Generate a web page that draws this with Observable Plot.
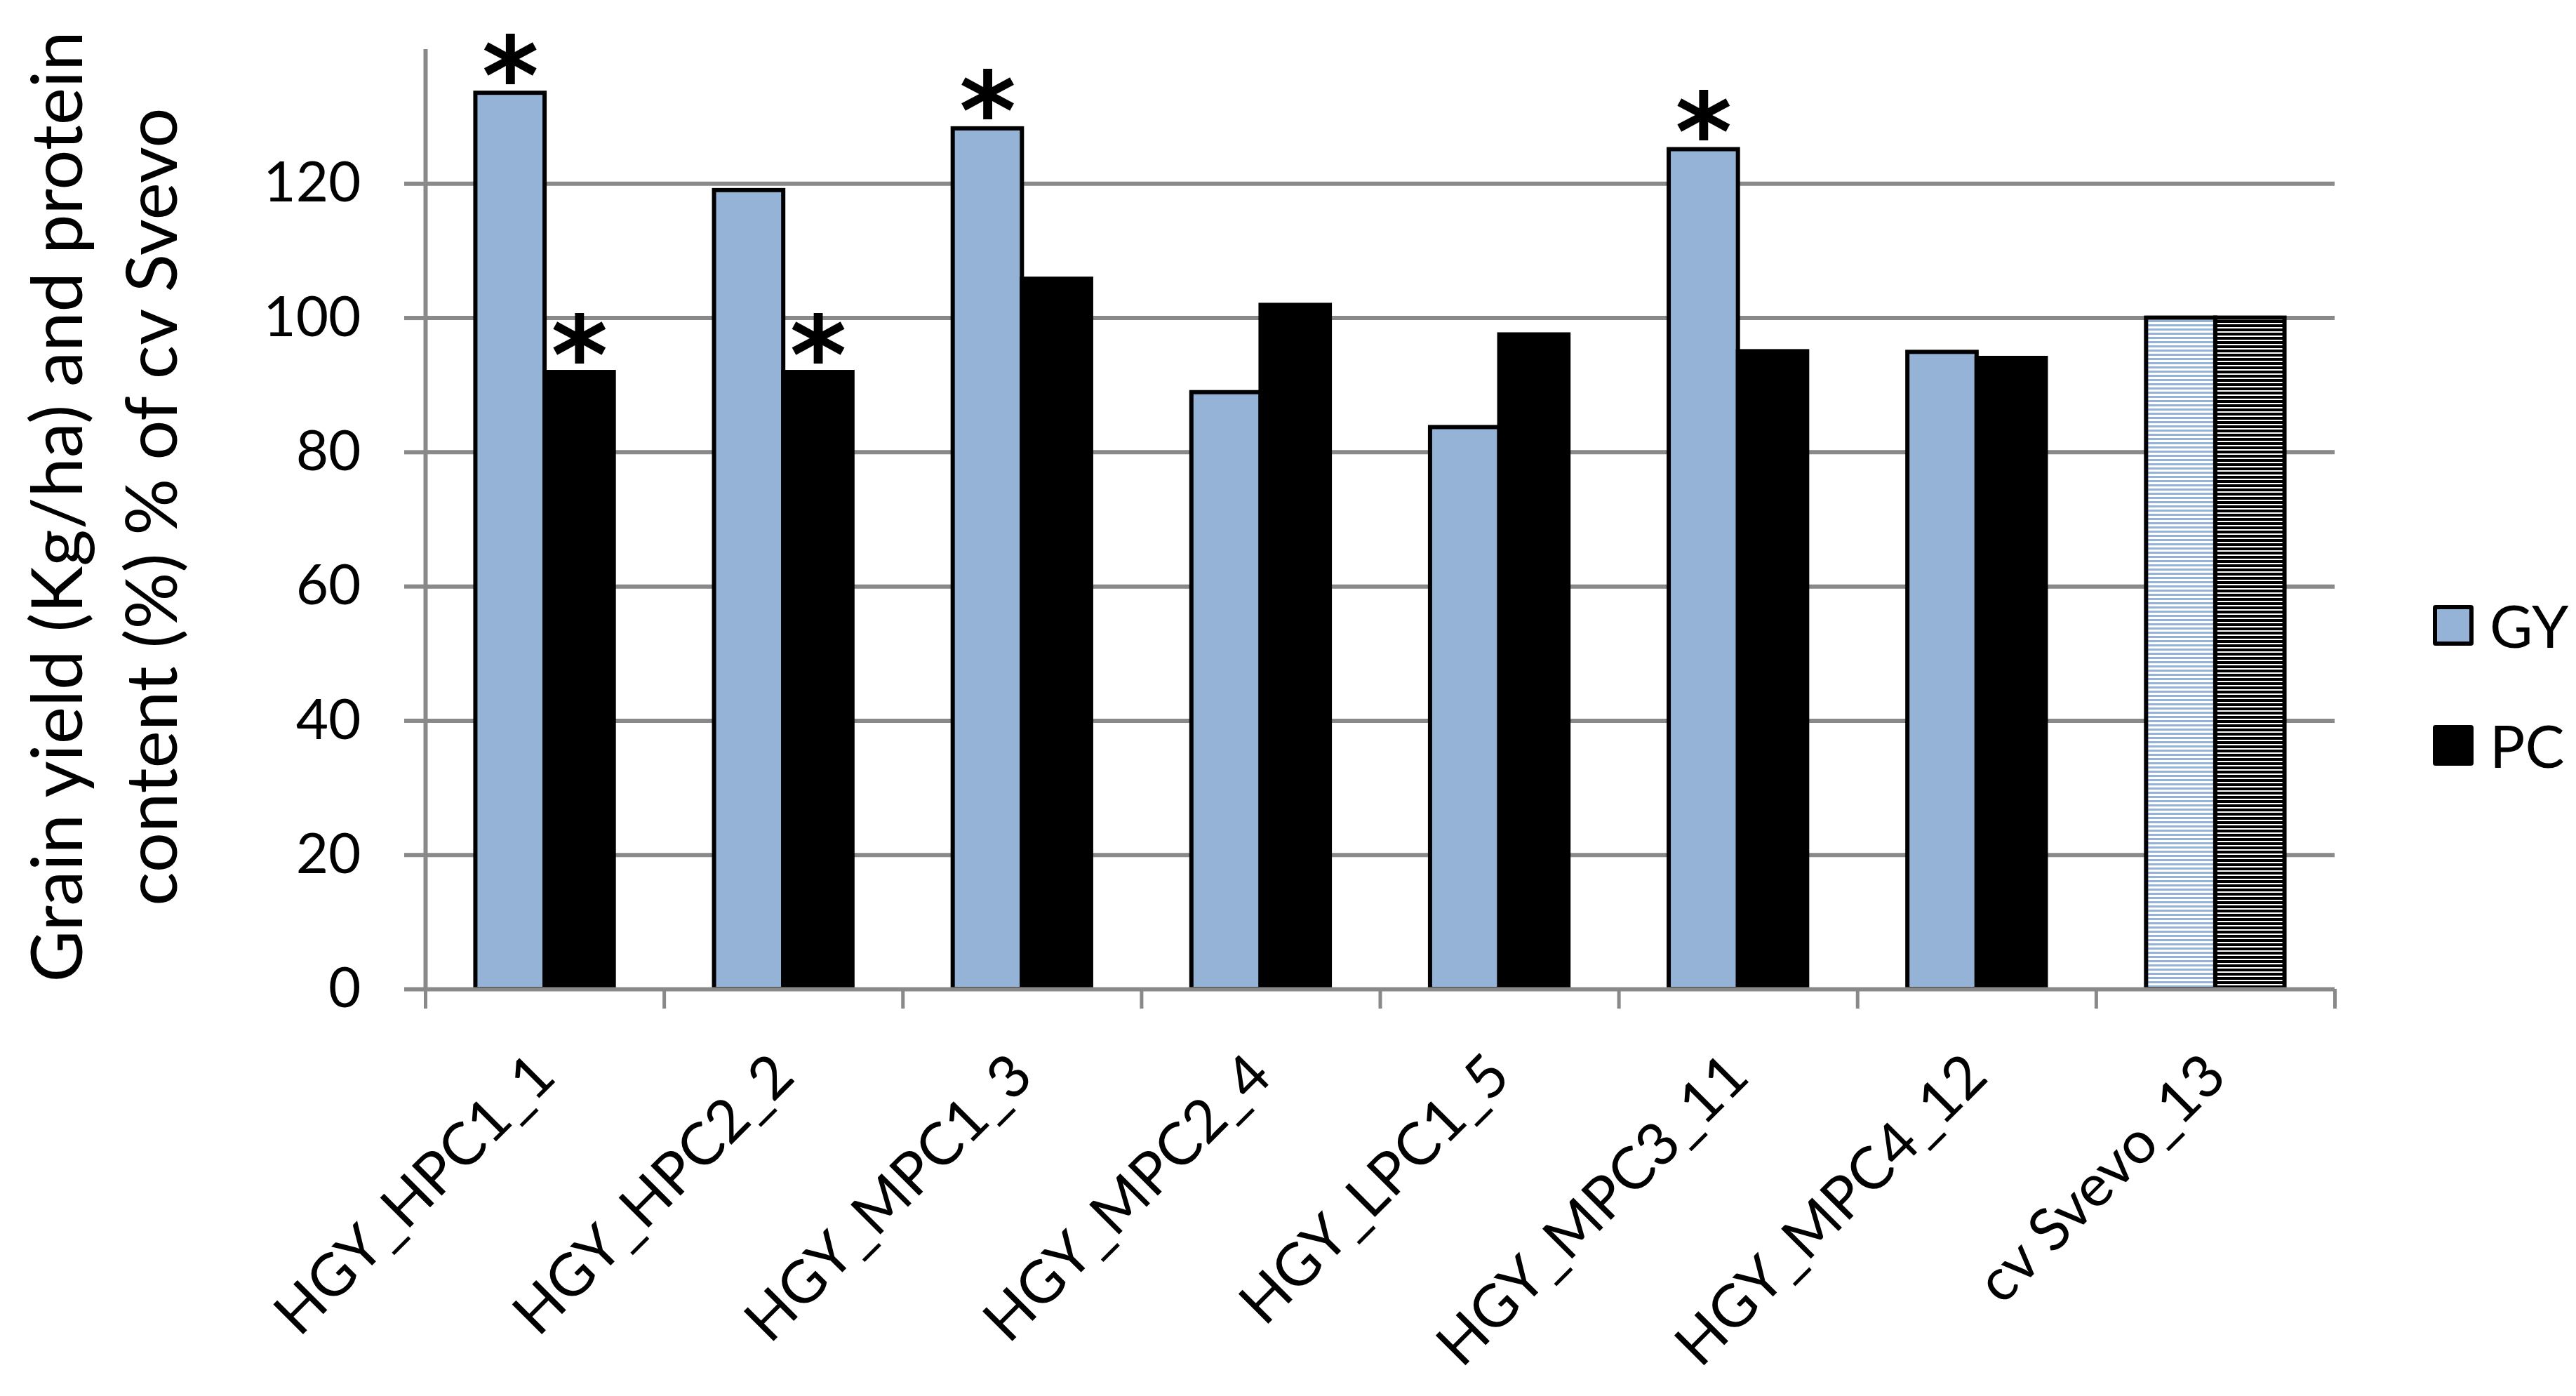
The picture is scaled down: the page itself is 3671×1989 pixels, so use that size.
<!DOCTYPE html>
<html>
<head>
<meta charset="utf-8">
<script src="https://cdn.jsdelivr.net/npm/d3@7"></script>
<script src="https://cdn.jsdelivr.net/npm/@observablehq/plot@0.6"></script>
<style>
  html, body { margin: 0; padding: 0; background: #fff; }
  #wrap { position: relative; width: 3671px; height: 1989px; font-family: Lato, "Open Sans", sans-serif; color: #000; }
  #ytitle { position: absolute; left: 146px; top: 722px; transform: translate(-50%, -50%) rotate(-90deg);
            text-align: center; white-space: nowrap; font-size: 101px; line-height: 135px; }
  .leg { position: absolute; left: 3467px; display: flex; align-items: center; height: 58px; font-size: 84px; line-height: 58px; }
  .sw { width: 58px; height: 58px; box-sizing: border-box; border: 6px solid #000; border-radius: 4px; margin-right: 23px; }
</style>
</head>
<body>
<div id="wrap">
  <div id="chart"></div>
  <div id="ytitle">Grain yield (Kg/ha) and protein<br>content (%) % of cv Svevo</div>
</div>
<script>
const categories = ["HGY_HPC1_1", "HGY_HPC2_2", "HGY_MPC1_3", "HGY_MPC2_4", "HGY_LPC1_5", "HGY_MPC3_11", "HGY_MPC4_12", "cv Svevo_13"];
const seriesNames = ["GY", "PC"];
const gyValues = [133.5, 119.0, 128.2, 88.9, 83.7, 125.1, 94.9, 100];
const pcValues = [91.9, 91.9, 105.8, 101.9, 97.5, 95.0, 94.0, 100];
const gySignificant = [true, false, true, false, false, true, false, false];
const pcSignificant = [true, true, false, false, false, false, false, false];
const yTicks = [0, 20, 40, 60, 80, 100, 120];
const controlCategory = "cv Svevo_13";

const seriesColors = {GY: "#95B3D7", PC: "#000000"};
const seriesPatterns = {GY: "url(#svevoGY)", PC: "url(#svevoPC)"};

const rows = categories.flatMap((cat, i) => [
  {cat, i, series: "GY", value: gyValues[i], sig: gySignificant[i]},
  {cat, i, series: "PC", value: pcValues[i], sig: pcSignificant[i]}
]);

// bar placement inside each category slot (layout proportions)
const slot = {GY: [0.21, 0.5], PC: [0.5, 0.79]};
const x1 = d => d.i + slot[d.series][0];
const x2 = d => d.i + slot[d.series][1];

const grid = "#898989";

const barMarks = seriesNames.flatMap(s => [
  Plot.rectY(rows.filter(d => d.series === s && d.cat !== controlCategory),
    {x1, x2, y: "value", fill: seriesColors[s], stroke: "#000", strokeWidth: 6}),
  Plot.rectY(rows.filter(d => d.series === s && d.cat === controlCategory),
    {x1, x2, y: "value", fill: seriesPatterns[s], stroke: "#000", strokeWidth: 6})
]);

const svg = Plot.plot({
  width: 3671,
  height: 1989,
  marginLeft: 606,
  marginRight: 344,
  marginTop: 70,
  marginBottom: 580,
  style: {fontFamily: "Lato, 'Open Sans', sans-serif", background: "white", color: "black"},
  x: {type: "linear", domain: [0, categories.length], label: null},
  y: {domain: [0, 140], label: null},
  marks: [
    Plot.ruleY(yTicks.filter(v => v > 0), {stroke: grid, strokeWidth: 6}),
    ...barMarks,
    Plot.ruleY([0], {stroke: grid, strokeWidth: 6}),
    Plot.ruleX([0], {stroke: grid, strokeWidth: 6}),
    Plot.axisY({ticks: yTicks, tickSize: 30, tickPadding: 62, stroke: grid, strokeWidth: 6, fontSize: 80, label: null}),
    Plot.axisX({ticks: d3.range(categories.length + 1), tickSize: 28, stroke: grid, strokeWidth: 5, tickFormat: () => "", label: null}),
    Plot.axisX({ticks: categories.map((c, i) => i + 0.5), tickSize: 0, tickPadding: 109, tickRotate: -45,
      fontSize: 84, tickFormat: v => categories[Math.floor(v)], label: null}),
    Plot.text(rows.filter(d => d.sig), {x: d => (x1(d) + x2(d)) / 2, y: "value", text: () => "*",
      fontSize: 155, fontWeight: "bold", fontFamily: "DejaVu Sans", lineAnchor: "bottom", dy: 30})
  ]
});

const defs = d3.select(svg).insert("defs", ":first-child");
const pg = defs.append("pattern").attr("id", "svevoGY").attr("patternUnits", "userSpaceOnUse").attr("width", 8).attr("height", 6);
pg.append("rect").attr("width", 8).attr("height", 6).attr("fill", "#fff");
pg.append("rect").attr("width", 8).attr("height", 3).attr("fill", seriesColors.GY);
const pp = defs.append("pattern").attr("id", "svevoPC").attr("patternUnits", "userSpaceOnUse").attr("width", 8).attr("height", 6);
pp.append("rect").attr("width", 8).attr("height", 6).attr("fill", "#fff");
pp.append("rect").attr("width", 8).attr("height", 4).attr("fill", seriesColors.PC);

document.getElementById("chart").appendChild(svg);

// legend
const wrap = document.getElementById("wrap");
const legendTops = [862, 1033];
seriesNames.forEach((s, k) => {
  const row = document.createElement("div");
  row.className = "leg";
  row.style.top = legendTops[k] + "px";
  const sw = document.createElement("span");
  sw.className = "sw";
  sw.style.background = seriesColors[s];
  const t = document.createElement("span");
  t.textContent = s;
  row.appendChild(sw);
  row.appendChild(t);
  wrap.appendChild(row);
});
</script>
</body>
</html>
